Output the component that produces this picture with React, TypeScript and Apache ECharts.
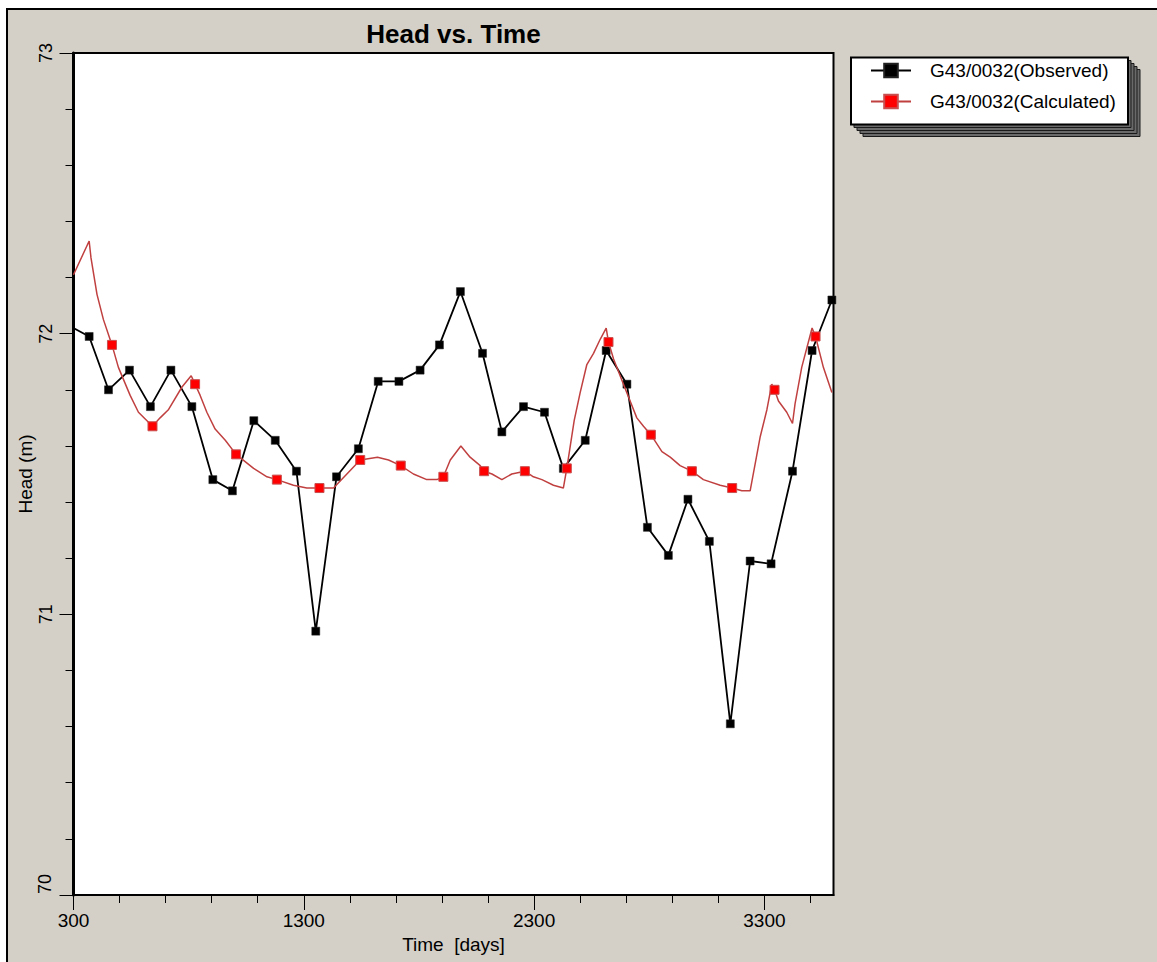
import React, { useEffect, useRef } from "react";
import * as echarts from "echarts";

const FONT = "'Liberation Sans', Arial, Helvetica, sans-serif";

// Observed heads (quarterly readings), days / metres
const obsDays = [277, 368, 452, 543, 634, 723, 814, 905, 990, 1083, 1176, 1268, 1352, 1442, 1537, 1623, 1713, 1805, 1889, 1980, 2076, 2160, 2254, 2345, 2427, 2522, 2613, 2703, 2792, 2883, 2968, 3061, 3152, 3238, 3329, 3422, 3507, 3593];
const obsHeads = [72.03, 71.99, 71.8, 71.87, 71.74, 71.87, 71.74, 71.48, 71.44, 71.69, 71.62, 71.51, 70.94, 71.49, 71.59, 71.83, 71.83, 71.87, 71.96, 72.15, 71.93, 71.65, 71.74, 71.72, 71.52, 71.62, 71.94, 71.82, 71.31, 71.21, 71.41, 71.26, 70.61, 71.19, 71.18, 71.51, 71.94, 72.12];

// Calculated heads (model output)
const calcDays = [300, 368, 376, 402, 430, 467, 495, 546, 582, 643, 676, 713, 771, 811, 828, 850, 879, 915, 959, 1006, 1082, 1140, 1183, 1255, 1313, 1368, 1429, 1487, 1545, 1620, 1668, 1721, 1776, 1834, 1878, 1906, 1936, 1982, 2022, 2066, 2083, 2117, 2160, 2203, 2260, 2297, 2334, 2384, 2427, 2442, 2474, 2500, 2529, 2558, 2587, 2613, 2623, 2645, 2688, 2746, 2775, 2807, 2855, 2891, 2934, 2985, 3035, 3108, 3160, 3202, 3238, 3281, 3311, 3332, 3344, 3361, 3397, 3422, 3433, 3462, 3507, 3522, 3556, 3593];
const calcHeads = [72.21, 72.33, 72.27, 72.14, 72.05, 71.96, 71.88, 71.78, 71.72, 71.67, 71.7, 71.73, 71.81, 71.85, 71.82, 71.78, 71.72, 71.66, 71.62, 71.57, 71.52, 71.49, 71.48, 71.46, 71.45, 71.45, 71.45, 71.5, 71.55, 71.56, 71.55, 71.53, 71.5, 71.48, 71.48, 71.49, 71.55, 71.6, 71.56, 71.53, 71.51, 71.5, 71.48, 71.5, 71.51, 71.49, 71.48, 71.46, 71.45, 71.52, 71.69, 71.79, 71.89, 71.93, 71.98, 72.02, 71.97, 71.91, 71.82, 71.7, 71.67, 71.64, 71.58, 71.56, 71.53, 71.51, 71.48, 71.46, 71.45, 71.44, 71.44, 71.63, 71.73, 71.82, 71.8, 71.76, 71.72, 71.68, 71.75, 71.88, 72.02, 71.99, 71.88, 71.79];
const calcMarkerDays = [467, 643, 828, 1006, 1183, 1368, 1545, 1721, 1906, 2083, 2260, 2442, 2623, 2807, 2985, 3160, 3344, 3522];

const xMajorTicks = [300, 1300, 2300, 3300];
const xMinorTicks = [500, 700, 900, 1100, 1500, 1700, 1900, 2100, 2500, 2700, 2900, 3100, 3500];
const seriesNames = ["G43/0032(Observed)", "G43/0032(Calculated)"];

export default function App() {
  const ref = useRef<HTMLDivElement>(null);
  useEffect(() => {
    document.body.style.margin = "0";
    const chart = echarts.init(ref.current!, null, { renderer: "svg" });
    const tickLine = { color: "#000", width: 1 };
    const shadowRects = [12, 9, 6, 3].map((o) => ({
      type: "rect",
      shape: { x: 851 + o, y: 57.5 + o, width: 277, height: 67 },
      style: { fill: "#6a6a6a", stroke: "#1a1a1a", lineWidth: 1 },
      silent: true,
    }));
    chart.setOption({
      animation: false,
      backgroundColor: "#d4d0c8",
      title: {
        text: "Head vs. Time",
        left: 453.5,
        top: 21,
        textAlign: "center",
        padding: 0,
        textStyle: { fontSize: 26, fontWeight: "bold", color: "#000", fontFamily: FONT },
      },
      grid: {
        left: 73.5,
        top: 53,
        right: 323.5,
        bottom: 67,
        show: true,
        backgroundColor: "#fff",
        borderColor: "#000",
        borderWidth: 2,
        containLabel: false,
        outerBoundsMode: "none",
      },
      legend: {
        show: true,
        orient: "vertical",
        left: 870,
        top: 61,
        padding: 0,
        itemWidth: 40,
        itemHeight: 17,
        itemGap: 12,
        selectedMode: false,
        data: seriesNames,
        textStyle: { fontSize: 19, color: "#000", fontFamily: FONT, padding: [0, 0, 0, 14] },
      },
      xAxis: [
        {
          type: "value",
          min: 300,
          max: 3600,
          interval: 1000,
          position: "bottom",
          axisLine: { show: true, onZero: false, lineStyle: { color: "#000", width: 2 } },
          axisTick: { show: true, length: 15, customValues: xMajorTicks, lineStyle: tickLine },
          axisLabel: {
            customValues: xMajorTicks,
            fontSize: 19,
            color: "#000",
            fontFamily: FONT,
            margin: 16,
            formatter: (v: number) => String(v),
          },
          splitLine: { show: false },
          name: "Time  [days]",
          nameLocation: "middle",
          nameGap: 40,
          nameMoveOverlap: false,
          nameTextStyle: { fontSize: 19, color: "#000", fontFamily: FONT },
        },
        {
          type: "value",
          min: 300,
          max: 3600,
          interval: 200,
          position: "bottom",
          axisLine: { show: false },
          axisTick: { show: true, length: 8, customValues: xMinorTicks, lineStyle: tickLine },
          axisLabel: { show: false },
          splitLine: { show: false },
        },
      ],
      yAxis: {
        type: "value",
        min: 70,
        max: 73,
        interval: 1,
        axisLine: { show: true, onZero: false, lineStyle: { color: "#000", width: 3 } },
        axisTick: { show: true, length: 14, lineStyle: tickLine },
        minorTick: { show: true, splitNumber: 5, length: 8, lineStyle: tickLine },
        axisLabel: {
          rotate: 90,
          fontSize: 18,
          color: "#000",
          fontFamily: FONT,
          margin: 19,
          formatter: (v: number) => (v === 70 ? "" : String(v)),
        },
        splitLine: { show: false },
        minorSplitLine: { show: false },
        name: "Head (m)",
        nameLocation: "middle",
        nameRotate: 90,
        nameGap: 39,
        nameMoveOverlap: false,
        nameTextStyle: { fontSize: 19, color: "#000", fontFamily: FONT },
      },
      graphic: [
        { type: "rect", shape: { x: 0, y: 0, width: 1157, height: 8 }, style: { fill: "#fff" }, silent: true },
        { type: "rect", shape: { x: 0, y: 0, width: 6, height: 962 }, style: { fill: "#fff" }, silent: true },
        { type: "line", shape: { x1: 6, y1: 9, x2: 1157, y2: 9 }, style: { stroke: "#000", lineWidth: 2 }, silent: true },
        { type: "line", shape: { x1: 7, y1: 8, x2: 7, y2: 962 }, style: { stroke: "#000", lineWidth: 2 }, silent: true },
        ...shadowRects,
        {
          type: "rect",
          shape: { x: 851, y: 57.5, width: 277, height: 67 },
          style: { fill: "#fff", stroke: "#000", lineWidth: 2 },
          silent: true,
        },
        {
          type: "text",
          x: 45,
          y: 884,
          rotation: Math.PI / 2,
          style: { text: "70", font: `18px ${FONT}`, fill: "#000", align: "center", verticalAlign: "middle" },
          silent: true,
        },
      ],
      series: [
        {
          name: seriesNames[0],
          type: "line",
          xAxisIndex: 0,
          data: obsDays.map((d, i) => [d, obsHeads[i]]),
          symbol: "rect",
          symbolSize: 8,
          showAllSymbol: true,
          clip: true,
          lineStyle: { color: "#000", width: 1.8 },
          itemStyle: { color: "#000", borderColor: "#222", borderWidth: 0.5 },
          emphasis: { disabled: true },
          z: 2,
        },
        {
          name: seriesNames[1],
          type: "line",
          xAxisIndex: 0,
          data: calcDays.map((d, i) => ({
            value: [d, calcHeads[i]],
            symbol: calcMarkerDays.includes(d) ? "rect" : "none",
          })),
          symbol: "rect",
          symbolSize: 9,
          showAllSymbol: true,
          clip: true,
          lineStyle: { color: "#c04040", width: 1.5 },
          itemStyle: { color: "#ff0000", borderColor: "#c85050", borderWidth: 1 },
          emphasis: { disabled: true },
          z: 3,
        },
      ],
    });
    return () => chart.dispose();
  }, []);
  return <div ref={ref} style={{ width: 1157, height: 962 }} />;
}
